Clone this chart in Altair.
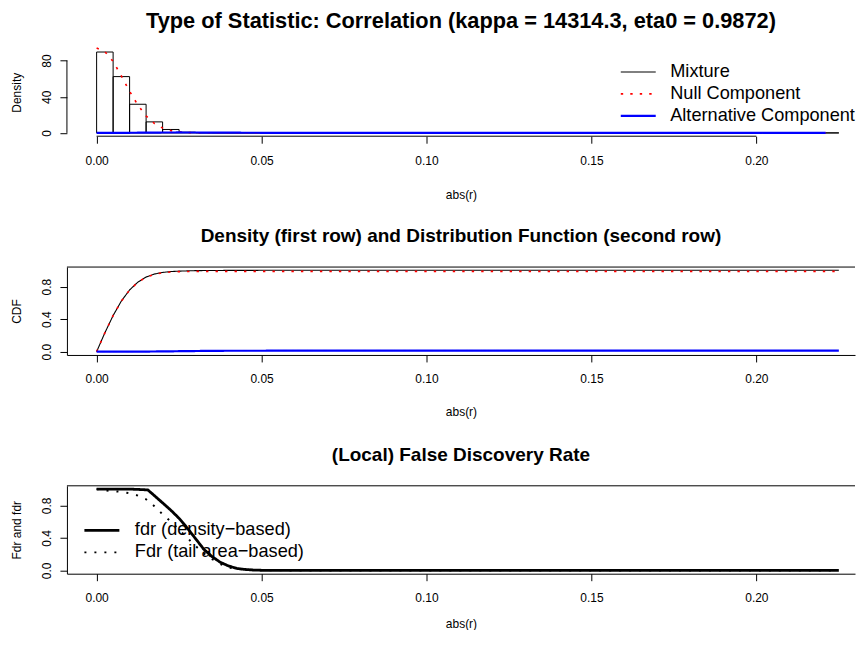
import altair as alt
import pandas as pd

FONT = "Liberation Sans"

# ---------------- data ----------------
x_ticks = [0.00, 0.05, 0.10, 0.15, 0.20]
x_domain = [-0.009, 0.2299]

# histogram of abs(r) (bin width 0.005)
hist_left = [0.000, 0.005, 0.010, 0.015, 0.020, 0.025, 0.030, 0.035, 0.040, 0.045,
             0.050, 0.055, 0.060, 0.065, 0.070, 0.075, 0.080, 0.085, 0.090, 0.095,
             0.100, 0.105, 0.110, 0.115, 0.120, 0.125, 0.130, 0.135, 0.140, 0.145,
             0.150, 0.155, 0.160, 0.165, 0.170, 0.175, 0.180, 0.185, 0.190, 0.195,
             0.200, 0.205, 0.210, 0.215, 0.220]
hist_right = [0.005, 0.010, 0.015, 0.020, 0.025, 0.030, 0.035, 0.040, 0.045, 0.050,
              0.055, 0.060, 0.065, 0.070, 0.075, 0.080, 0.085, 0.090, 0.095, 0.100,
              0.105, 0.110, 0.115, 0.120, 0.125, 0.130, 0.135, 0.140, 0.145, 0.150,
              0.155, 0.160, 0.165, 0.170, 0.175, 0.180, 0.185, 0.190, 0.195, 0.200,
              0.205, 0.210, 0.215, 0.220, 0.225]
hist_height = [89.5, 62.3, 31.7, 12.2, 3.8, 0.8, 0.2, 0.05, 0, 0,
               0, 0, 0, 0, 0, 0, 0, 0, 0, 0,
               0, 0, 0, 0, 0, 0, 0, 0, 0, 0,
               0, 0, 0, 0, 0, 0, 0, 0, 0, 0,
               0, 0, 0, 0, 0]

# density curves (panel 1)
null_dens_r = [0, 0.0025, 0.005, 0.0075, 0.01, 0.0125, 0.015, 0.0175, 0.02, 0.0225,
               0.025, 0.0275, 0.03, 0.035, 0.04, 0.06, 0.1, 0.15, 0.2, 0.221]
null_dens = [94, 90, 79, 63, 46, 30.8, 18.8, 10.5, 5.4, 2.5,
             1.1, 0.4, 0.15, 0.02, 0, 0, 0, 0, 0, 0]
alt_dens_r = [0, 0.005, 0.01, 0.015, 0.02, 0.025, 0.03, 0.035, 0.04, 0.05,
              0.06, 0.08, 0.1, 0.15, 0.2, 0.221]
alt_dens = [0, 0.05, 0.15, 0.3, 0.45, 0.5, 0.45, 0.35, 0.25, 0.15,
            0.1, 0.06, 0.04, 0.02, 0.01, 0.01]

# distribution functions (panel 2)
cdf_r = [0, 0.0025, 0.005, 0.0075, 0.01, 0.0125, 0.015, 0.0175, 0.02, 0.0225,
         0.025, 0.03, 0.035, 0.04, 0.05, 0.06, 0.08, 0.1, 0.15, 0.2, 0.225]
mix_cdf = [0, 0.232, 0.444, 0.623, 0.759, 0.855, 0.917, 0.954, 0.974, 0.985,
           0.990, 0.996, 0.998, 0.999, 1.0, 1.0, 1.0, 1.0, 1.0, 1.0, 1.0]
null_cdf = [0, 0.232, 0.444, 0.622, 0.758, 0.854, 0.915, 0.951, 0.970, 0.980,
            0.984, 0.987, 0.987, 0.987, 0.987, 0.987, 0.987, 0.987, 0.987, 0.987, 0.987]
alt_cdf = [0, 0.00002, 0.0001, 0.0003, 0.0006, 0.001, 0.0017, 0.0026, 0.0036, 0.0048,
           0.006, 0.0084, 0.0103, 0.0118, 0.0120, 0.0122, 0.0124, 0.0125, 0.0127, 0.0128, 0.0128]

# false discovery rates (panel 3)
fdr_r = [0, 0.005, 0.01, 0.0155, 0.0175, 0.02, 0.0225, 0.025, 0.0275, 0.03,
         0.0325, 0.035, 0.0375, 0.04, 0.0425, 0.045, 0.0475, 0.05, 0.06, 0.1,
         0.15, 0.2, 0.225]
fdr_vals = [1, 1, 1, 0.99, 0.92, 0.83, 0.74, 0.64, 0.52, 0.39,
            0.26, 0.17, 0.10, 0.055, 0.025, 0.012, 0.005, 0.002, 0, 0,
            0, 0, 0]
Fdr_r = [0, 0.0025, 0.005, 0.0075, 0.01, 0.0125, 0.015, 0.0175, 0.02, 0.0225,
         0.025, 0.0275, 0.03, 0.0325, 0.035, 0.0375, 0.04, 0.045, 0.05, 0.06,
         0.1, 0.15, 0.2, 0.225]
Fdr_vals = [1.0, 0.985, 0.975, 0.965, 0.95, 0.92, 0.875, 0.79, 0.69, 0.60,
            0.50, 0.40, 0.30, 0.21, 0.14, 0.08, 0.035, 0.01, 0.003, 0,
            0, 0, 0, 0]

comp_names = ["Mixture", "Null Component", "Alternative Component"]
comp_colors = ["black", "red", "blue"]
comp_dash = [[1, 0], [2.4, 7.1], [1, 0]]
comp_width = [1.1, 2.2, 2.6]

fdr_names = ["fdr (density\u2212based)", "Fdr (tail area\u2212based)"]
fdr_dash = [[1, 0], [2, 8]]
fdr_width = [2.8, 2.0]

title1 = "Type of Statistic: Correlation (kappa = 14314.3, eta0 = 0.9872)"
title2 = "Density (first row) and Distribution Function (second row)"
title3 = "(Local) False Discovery Rate"

# ---------------- layout ----------------
W = 789
H = 88
y1_domain = [-3.65, 93.6]
y1_ticks = [0, 20, 40, 60, 80]
yc_domain = [-0.04, 1.04]
yc_ticks = [0.0, 0.2, 0.4, 0.6, 0.8, 1.0]

xscale = alt.Scale(domain=x_domain, nice=False, zero=False)


def x_axis(domain, title_y):
    return alt.Axis(values=x_ticks, format=".2f", title="abs(r)", tickSize=7,
                    labelPadding=12, titleY=title_y, titleBaseline="middle",
                    domain=domain, labelFlush=False)


def y_axis(values, fmt, label_every, title, domain):
    return alt.Axis(values=values, format=fmt, title=title, tickSize=7,
                    labelExpr=f"(round(datum.value*10) % {label_every}) == 0 ? datum.label : ''",
                    labelAngle=270, labelAlign="center", labelBaseline="middle",
                    labelPadding=13, titleAngle=270, titleX=-50, titleY=H / 2,
                    titleAlign="center", titleBaseline="middle", domain=domain)


def make_title(text, size, offset):
    return alt.TitleParams(text=text, fontSize=size, offset=offset, font=FONT,
                           fontWeight="bold", anchor="middle", frame="group")


one = pd.DataFrame({"k": [0]})

# ---- panel 1 ----
hist_df = pd.DataFrame({"left": hist_left, "right": hist_right, "height": hist_height})
y1scale = alt.Scale(domain=y1_domain, nice=False, zero=False)

bars = alt.Chart(hist_df).mark_rect(fill="transparent", stroke="black", strokeWidth=1).encode(
    x=alt.X("left:Q", scale=xscale, axis=x_axis(False, 58)),
    x2="right:Q",
    y=alt.Y("height:Q", scale=y1scale, axis=y_axis(y1_ticks, "d", 400, "Density", False)),
    y2=alt.datum(0),
)

legend1 = alt.Legend(
    title=None, orient="none", legendX=553, legendY=13,
    symbolType="stroke", symbolSize=1225, labelFontSize=18.2, labelLimit=400,
    labelFont=FONT, labelOffset=13, padding=0, rowPadding=0, clipHeight=21.3,
    labelColor="black",
    symbolDash=alt.ExprRef(expr="datum.value == 'Null Component' ? [2.4, 7.1] : [1, 0]"),
    symbolStrokeWidth=alt.ExprRef(
        expr="datum.value == 'Mixture' ? 1.1 : (datum.value == 'Null Component' ? 2.2 : 2.6)"),
)


def comp_enc(with_legend):
    return dict(
        color=alt.Color("comp:N", scale=alt.Scale(domain=comp_names, range=comp_colors),
                        legend=legend1 if with_legend else None),
        strokeDash=alt.StrokeDash("comp:N", scale=alt.Scale(domain=comp_names, range=comp_dash), legend=None),
        strokeWidth=alt.StrokeWidth("comp:N", scale=alt.Scale(domain=comp_names, range=comp_width), legend=None),
    )


null_df = pd.DataFrame({"r": null_dens_r, "v": null_dens, "comp": "Null Component"})
alt_df = pd.DataFrame({"r": alt_dens_r, "v": alt_dens, "comp": "Alternative Component"})

null_line = alt.Chart(null_df).mark_line().encode(
    x=alt.X("r:Q", scale=xscale), y=alt.Y("v:Q", scale=y1scale), **comp_enc(True))
alt_line = alt.Chart(alt_df).mark_line().encode(
    x=alt.X("r:Q", scale=xscale), y=alt.Y("v:Q", scale=y1scale), **comp_enc(True))

xline1 = alt.Chart(pd.DataFrame({"a": [x_ticks[0]], "b": [x_ticks[-1]], "y": [y1_domain[0]]})).mark_rule(
    color="black", strokeWidth=1).encode(x="a:Q", x2="b:Q", y="y:Q")
yline1 = alt.Chart(pd.DataFrame({"x": [x_domain[0]], "a": [y1_ticks[0]], "b": [y1_ticks[-1]]})).mark_rule(
    color="black", strokeWidth=1).encode(x="x:Q", y="a:Q", y2="b:Q")

panel1 = alt.layer(bars, null_line, alt_line, xline1, yline1).properties(
    width=W, height=H, title=make_title(title1, 21.8, 12))

# ---- panel 2 ----
ycscale = alt.Scale(domain=yc_domain, nice=False, zero=False)
mix_df2 = pd.DataFrame({"r": cdf_r, "v": mix_cdf, "comp": "Mixture"})
null_df2 = pd.DataFrame({"r": cdf_r, "v": null_cdf, "comp": "Null Component"})
alt_df2 = pd.DataFrame({"r": cdf_r, "v": alt_cdf, "comp": "Alternative Component"})

mix_l = alt.Chart(mix_df2).mark_line().encode(
    x=alt.X("r:Q", scale=xscale, axis=x_axis(True, 57)),
    y=alt.Y("v:Q", scale=ycscale, axis=y_axis(yc_ticks, ".1f", 4, "CDF", True)), **comp_enc(False))
null_l = alt.Chart(null_df2).mark_line().encode(
    x=alt.X("r:Q", scale=xscale), y=alt.Y("v:Q", scale=ycscale), **comp_enc(False))
alt_l = alt.Chart(alt_df2).mark_line().encode(
    x=alt.X("r:Q", scale=xscale), y=alt.Y("v:Q", scale=ycscale), **comp_enc(False))
top2 = alt.Chart(one).mark_rule(color="black", strokeWidth=1).encode(y=alt.datum(yc_domain[1]))

panel2 = alt.layer(mix_l, null_l, alt_l, top2).properties(
    width=W, height=H, title=make_title(title2, 19, 21))

# ---- panel 3 ----
legend3 = alt.Legend(
    title=None, orient="none", legendX=16, legendY=34,
    symbolType="stroke", symbolSize=1225, labelFontSize=18.2, labelLimit=400,
    labelFont=FONT, labelOffset=14, padding=0, rowPadding=0, clipHeight=21.3,
    symbolStrokeColor="black", labelColor="black",
    symbolStrokeWidth=alt.ExprRef(expr="indexof(datum.value, 'fdr') == 0 ? 2.8 : 2.0"),
)


def fdr_enc():
    return dict(
        strokeDash=alt.StrokeDash("kind:N", scale=alt.Scale(domain=fdr_names, range=fdr_dash), legend=legend3),
        strokeWidth=alt.StrokeWidth("kind:N", scale=alt.Scale(domain=fdr_names, range=fdr_width), legend=None),
    )


fdr_df = pd.DataFrame({"r": fdr_r, "v": fdr_vals, "kind": fdr_names[0]})
Fdr_df = pd.DataFrame({"r": Fdr_r, "v": Fdr_vals, "kind": fdr_names[1]})

fdr_l = alt.Chart(fdr_df).mark_line(color="black").encode(
    x=alt.X("r:Q", scale=xscale, axis=x_axis(True, 50)),
    y=alt.Y("v:Q", scale=ycscale, axis=y_axis(yc_ticks, ".1f", 4, "Fdr and fdr", True)), **fdr_enc())
Fdr_l = alt.Chart(Fdr_df).mark_line(color="black").encode(
    x=alt.X("r:Q", scale=xscale), y=alt.Y("v:Q", scale=ycscale), **fdr_enc())
top3 = alt.Chart(one).mark_rule(color="black", strokeWidth=1).encode(y=alt.datum(yc_domain[1]))

panel3 = alt.layer(fdr_l, Fdr_l, top3).properties(
    width=W, height=H, title=make_title(title3, 19, 18))

chart = alt.vconcat(panel1, panel2, panel3, spacing=131, bounds="flush").resolve_legend(
    color="independent", strokeDash="independent", strokeWidth="independent"
).resolve_scale(
    color="independent", strokeDash="independent", strokeWidth="independent"
).properties(
    padding={"left": 3, "top": 2, "right": 0, "bottom": 0}
).configure_view(stroke=None).configure_axis(
    labelFont=FONT, titleFont=FONT, labelFontSize=12, titleFontSize=12,
    labelColor="black", titleColor="black", tickColor="black", domainColor="black",
    titleFontWeight="normal", grid=False
).configure_legend(labelFont=FONT)

chart.save("out.html", embed_options={"renderer": "svg", "actions": False})
